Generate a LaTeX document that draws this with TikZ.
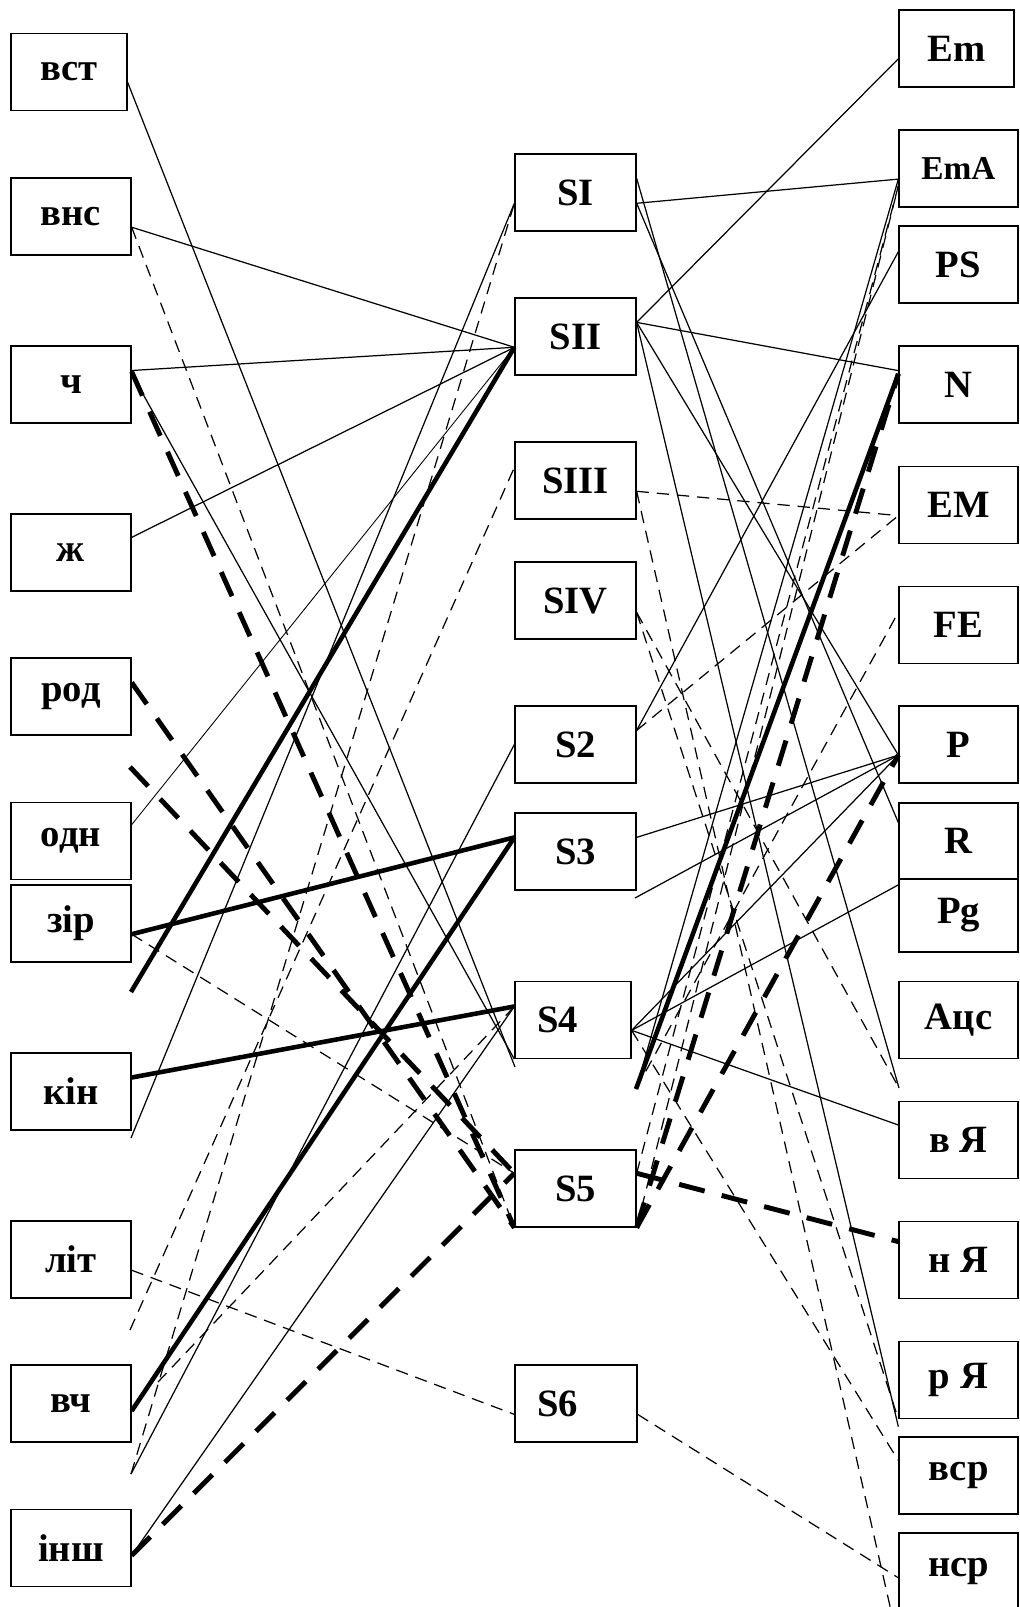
\documentclass[tikz,border=0pt]{standalone}
\usepackage{fontspec}
\setmainfont{Liberation Serif}

\begin{document}
\begin{tikzpicture}[x=0.02cm, y=-0.02cm,
    box/.style={draw, line width=0.75pt, minimum width=2.4cm, minimum height=1.54cm,
        inner sep=0pt, font=\fontsize{22}{26}\selectfont\bfseries},
    link/.style={line width=0.7pt},
    dlink/.style={line width=0.7pt, dash pattern=on 7pt off 4.5pt},
    blink/.style={line width=2.6pt},
    bdlink/.style={line width=2.8pt, dash pattern=on 15pt off 10pt}]
    \useasboundingbox (0,0) rectangle (1019,1607);

    % left column
    \node[box, minimum width=2.32cm] (vst) at (69,72) {вст};
    \node[box] (vns) at (71,216.5) {внс};
    \node[box] (ch) at (71,384.5) {ч};
    \node[box] (zh) at (71,552.5) {ж};
    \node[box] (rod) at (71,696.5) {род};
    \node[box] (odn) at (71,841) {одн};
    \node[box] (zir) at (71,923.5) {зір};
    \node[box] (kin) at (71,1091.5) {кін};
    \node[box] (lit) at (71,1259.5) {літ};
    \node[box] (vch) at (71,1403.5) {вч};
    \node[box] (insh) at (71,1548) {інш};

    % middle column
    \node[box, minimum width=2.42cm] (sI) at (575.5,192.5) {SI};
    \node[box, minimum width=2.42cm] (sII) at (575.5,336.5) {SII};
    \node[box, minimum width=2.42cm] (sIII) at (575.5,480.5) {SIII};
    \node[box, minimum width=2.42cm] (sIV) at (575.5,600.5) {SIV};
    \node[box, minimum width=2.42cm] (s2) at (575.5,744.5) {S2};
    \node[box, minimum width=2.42cm] (s3) at (575.5,851.5) {S3};
    \node[box, minimum width=2.32cm, text width=1.44cm, align=left] (s4) at (573,1020) {S4};
    \node[box, minimum width=2.42cm] (s5) at (575.5,1188.5) {S5};
    \node[box, minimum width=2.44cm, text width=1.56cm, align=left] (s6) at (576,1403.5) {S6};

    % right column
    \node[box, minimum width=2.3cm] (em) at (956.5,48.5) {Em};
    \node[box, minimum width=2.38cm, font=\fontsize{19}{22}\selectfont\bfseries] (ema) at (958.5,168.5) {EmA};
    \node[box, minimum width=2.38cm] (ps) at (958.5,264.5) {PS};
    \node[box, minimum width=2.38cm] (n) at (958.5,384.5) {N};
    \node[box, minimum width=2.38cm] (emm) at (958.5,505) {EM};
    \node[box, minimum width=2.38cm] (fe) at (958.5,625) {FE};
    \node[box, minimum width=2.38cm] (p) at (958.5,744.5) {P};
    \node[box, minimum width=2.38cm, minimum height=1.52cm] (r) at (958.5,841) {R};
    \node[box, minimum width=2.38cm, minimum height=1.46cm] (pg) at (958.5,915.5) {Pg};
    \node[box, minimum width=2.38cm] (acs) at (958.5,1020) {Ацс};
    \node[box, minimum width=2.38cm] (vya) at (958.5,1140) {в Я};
    \node[box, minimum width=2.38cm] (nya) at (958.5,1260) {н Я};
    \node[box, minimum width=2.38cm] (rya) at (958.5,1380) {р Я};
    \node[box, minimum width=2.38cm] (vsr) at (958.5,1475.5) {вср};
    \node[box, minimum width=2.38cm] (nsr) at (958.5,1571.5) {нср};

    % loose line ends
    \coordinate (la) at (131,992);
    \coordinate (lb) at (130,767);
    \coordinate (lc) at (131,1138);
    \coordinate (ld) at (130,1330);
    \coordinate (le) at (131,1474);
    \coordinate (lf) at (158,1382);
    \coordinate (ma) at (515,1067);
    \coordinate (mb) at (635,898);
    \coordinate (mc) at (636,1089);
    \coordinate (ra) at (899,1088);
    \coordinate (rb) at (892,1615);

    % left to middle
    \draw[link] (vst.-10) -- (ma);
    \draw[link] (vns.-10) -- (sII.190);
    \draw[dlink] (vns.-10) -- (s5.south west);
    \draw[link] (ch.13) -- (sII.190);
    \draw[bdlink] (ch.12) -- (s5.south west);
    \draw[link] (ch.10) -- (s4.south west);
    \draw[link] (zh.14) -- (sII.190);
    \draw[bdlink] (rod.13) -- (s5.south west);
    \draw[bdlink] (lb) -- (s5.166);
    \draw[line width=0.5pt] (odn.15) -- (sII.190);
    \draw[blink] (zir.-10) -- (s3.167);
    \draw[dlink] (zir.-10) -- (s5.166);
    \draw[blink] (la) -- (sII.190);
    \draw[blink] (kin.13) -- (s4.167);
    \draw[link] (lc) -- (sI.190);
    \draw[dlink] (le) -- (sI.190);
    \draw[dlink] (ld) -- (sIII.168);
    \draw[link] (le) -- (s2.west);
    \draw[dlink] (lf) -- (s4.167);
    \draw[blink] (vch.-7) -- (s3.167);
    \draw[link] (insh.-7) -- (s4.167);
    \draw[bdlink] (insh.-7) -- (s5.166);
    \draw[dlink] (lit.-10) -- (s6.190);

    % middle to right
    \draw[link] (sI.-10) -- (ema.190);
    \draw[link] (sI.13) -- (ra);
    \draw[link] (sI.-10) -- (r.163);
    \draw[link] (sII.13) -- (em.190);
    \draw[link] (sII.13) -- (n.167);
    \draw[link] (sII.13) -- (p.190);
    \draw[link] (sII.13) -- ([yshift=-0.15cm]rya.south west);
    \draw[dlink] (sIII.-10) -- (emm.190);
    \draw[dlink] (sIII.-10) -- (rb);
    \draw[dlink] (sIV.-11) -- (ra);
    \draw[dlink] (sIV.-11) -- (rya.south west);
    \draw[link] (s2.13) -- (ps.168);
    \draw[dlink] (s2.13) -- (emm.190);
    \draw[link] (s3.13) -- (p.190);
    \draw[link] (mb) -- (p.190);
    \draw[link] (s4.-10) -- (p.190);
    \draw[link] (s4.-10) -- (pg.153);
    \draw[link] (s4.-10) -- (vya.166);
    \draw[dlink] (s4.-10) -- (vsr.166);
    \draw[blink] (mc) -- (n.170);
    \draw[link] (mc) -- (ema.190);
    \draw[dlink] (mc) -- (fe.168);
    \draw[bdlink] (s5.south east) -- (n.170);
    \draw[bdlink] (s5.south east) -- (p.190);
    \draw[bdlink] (s5.14) -- (nya.163);
    \draw[dlink] (s5.south east) -- (ema.196);
    \draw[dlink] (s5.14) -- (ema.196);
    \draw[dlink] (s6.-10) -- (nsr.186);
\end{tikzpicture}
\end{document}
